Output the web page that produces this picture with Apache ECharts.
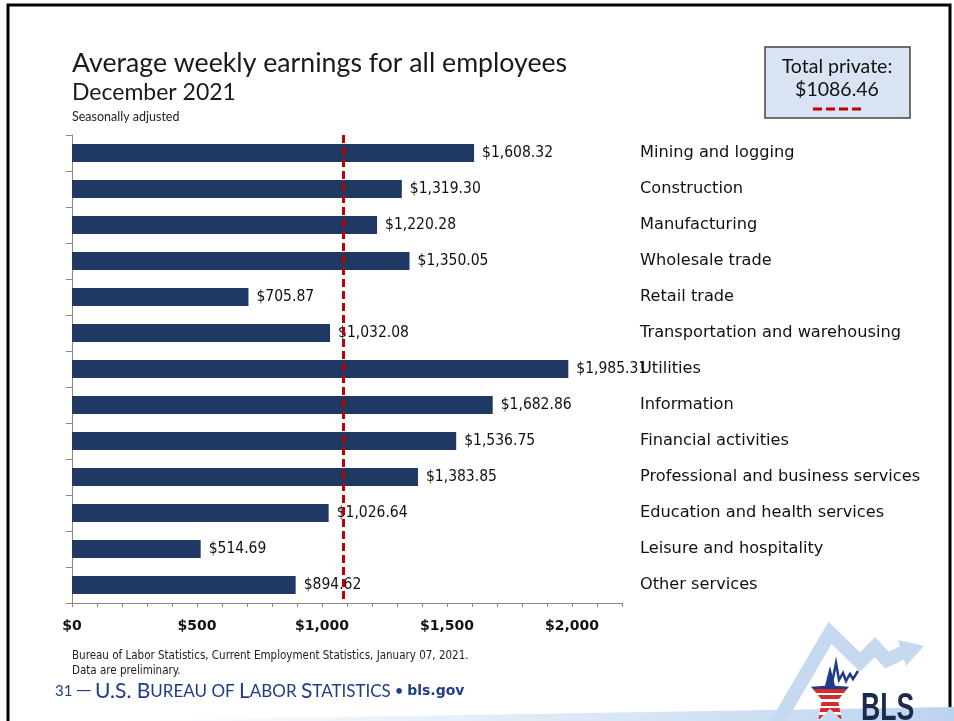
<!DOCTYPE html>
<html>
<head>
<meta charset="utf-8">
<script src="https://cdn.jsdelivr.net/npm/echarts@6/dist/echarts.min.js"></script>
<style>
  html, body { margin: 0; padding: 0; background: #fff; }
  #chart { width: 954px; height: 721px; }
</style>
</head>
<body>
<div id="chart"></div>
<script>
const industries = [
  "Mining and logging",
  "Construction",
  "Manufacturing",
  "Wholesale trade",
  "Retail trade",
  "Transportation and warehousing",
  "Utilities",
  "Information",
  "Financial activities",
  "Professional and business services",
  "Education and health services",
  "Leisure and hospitality",
  "Other services",
];
const weeklyEarnings = [
  1608.32, 1319.3, 1220.28, 1350.05, 705.87, 1032.08, 1985.31,
  1682.86, 1536.75, 1383.85, 1026.64, 514.69, 894.62,
];
const totalPrivate = 1086.46;
const xTickLabels = [0, 500, 1000, 1500, 2000];

const money = (v) =>
  "$" + v.toLocaleString("en-US", { minimumFractionDigits: 2, maximumFractionDigits: 2 });

const tahoma = "'DejaVu Sans Condensed', 'DejaVu Sans', sans-serif";
const calibri = "Lato, 'Open Sans', sans-serif";
const navy = "#1f3864";
const footBlue = "#1f3c88";

// five point star for the logo, stretched a bit vertically like the original
const starPoints = (cx, cy, r, r0, sy) => {
  const pts = [];
  for (let i = 0; i < 10; i++) {
    const a = -Math.PI / 2 + (i * Math.PI) / 5;
    const rr = i % 2 ? r0 : r;
    pts.push([cx + rr * Math.cos(a), cy + rr * Math.sin(a) * sy]);
  }
  return pts;
};

const stripeStops = [];
[[footBlue, 0, 0.42]].concat(
  [0.42, 0.54, 0.66, 0.78, 0.9].flatMap((o) => [["#d62b2b", o, o + 0.07], ["#fff", o + 0.07, o + 0.12]])
).forEach(([c, a, b]) => {
  stripeStops.push({ offset: a, color: c }, { offset: Math.min(b, 1), color: c });
});

const chart = echarts.init(document.getElementById("chart"));

chart.setOption({
  animation: false,
  grid: { left: 72, right: 332, top: 135, bottom: 118 },
  xAxis: {
    type: "value",
    min: 0,
    max: 2200,
    interval: 100,
    axisLine: { show: true, lineStyle: { color: "#888", width: 1 } },
    axisTick: { show: true, length: 4, lineStyle: { color: "#888" } },
    splitLine: { show: false },
    axisLabel: {
      margin: 16,
      color: "#111",
      fontFamily: "'DejaVu Sans', sans-serif",
      fontWeight: "bold",
      fontSize: 14,
      formatter: (v) => (xTickLabels.includes(v) ? "$" + v.toLocaleString("en-US") : ""),
    },
  },
  yAxis: [
    {
      type: "category",
      data: industries,
      inverse: true,
      axisLine: { show: true, lineStyle: { color: "#888" } },
      axisTick: { show: true, length: 6, lineStyle: { color: "#888" } },
      axisLabel: { show: false },
    },
    {
      type: "category",
      data: industries,
      inverse: true,
      position: "right",
      axisLine: { show: false },
      axisTick: { show: false },
      axisLabel: {
        margin: 18,
        color: "#111",
        fontFamily: "'DejaVu Sans', sans-serif",
        fontSize: 16.2,
      },
    },
  ],
  series: [
    {
      type: "bar",
      data: weeklyEarnings,
      barWidth: 18,
      itemStyle: { color: navy },
      label: {
        show: true,
        position: "right",
        distance: 8,
        color: "#111",
        fontFamily: tahoma,
        fontSize: 15.5,
        formatter: (p) => money(p.value),
      },
      markLine: {
        silent: true,
        symbol: "none",
        label: { show: false },
        lineStyle: { color: "#c00000", width: 3, type: [8, 4] },
        data: [{ xAxis: totalPrivate }],
      },
    },
  ],
  graphic: [
    // slide frame
    {
      type: "rect",
      shape: { x: 8, y: 5, width: 942, height: 800 },
      style: { fill: null, stroke: "#000", lineWidth: 3 },
    },
    // titles
    {
      type: "text",
      x: 72,
      y: 50,
      style: { text: "Average weekly earnings for all employees", font: "26.7px " + calibri, fill: "#1a1a1a" },
    },
    {
      type: "text",
      x: 72,
      y: 81,
      style: { text: "December 2021", font: "23px " + calibri, fill: "#1a1a1a" },
    },
    {
      type: "text",
      x: 72,
      y: 110,
      style: { text: "Seasonally adjusted", font: "12.5px " + calibri, fill: "#222" },
    },
    // total private box
    {
      type: "rect",
      shape: { x: 765, y: 47, width: 145, height: 71 },
      style: { fill: "#dae3f3", stroke: "#444", lineWidth: 1.5 },
    },
    {
      type: "text",
      x: 837,
      y: 57,
      style: { text: "Total private:", font: "19.5px " + calibri, fill: "#111", align: "center" },
    },
    {
      type: "text",
      x: 837,
      y: 80,
      style: { text: money(totalPrivate).replace(",", ""), font: "19.5px " + calibri, fill: "#111", align: "center" },
    },
    {
      type: "line",
      shape: { x1: 813, y1: 109, x2: 862, y2: 109 },
      style: { stroke: "#c00000", lineWidth: 3, lineDash: [9, 4] },
    },
    // source
    {
      type: "text",
      x: 72,
      y: 649,
      style: {
        text: "Bureau of Labor Statistics, Current Employment Statistics, January 07, 2021.\nData are preliminary.",
        font: "11.5px " + tahoma,
        lineHeight: 14.5,
        fill: "#222",
      },
    },
    // footer band
    {
      type: "polygon",
      shape: { points: [[100, 721], [954, 707], [954, 721]] },
      style: {
        fill: new echarts.graphic.LinearGradient(0, 0, 1, 0, [
          { offset: 0, color: "rgba(197,217,241,0)" },
          { offset: 1, color: "#bcd3ef" },
        ]),
      },
    },
    {
      type: "text",
      x: 55,
      y: 681,
      style: {
        text: "{n|31 }{d|—}{n| }{b|U.S. B}{s|UREAU OF }{b|L}{s|ABOR }{b|S}{s|TATISTICS}{n| • }{g|bls.gov}",
        rich: {
          n: { font: "15px " + calibri, fill: footBlue },
          d: { font: "15px 'DejaVu Sans', sans-serif", fill: footBlue },
          b: { font: "21px " + calibri, fill: footBlue },
          s: { font: "17px " + calibri, fill: footBlue },
          g: { font: "bold 14px 'DejaVu Sans', sans-serif", fill: footBlue },
        },
      },
    },
    // BLS logo arrow
    {
      type: "polyline",
      shape: { points: [[776, 725], [830, 633], [860, 662], [875, 647], [887, 660], [906, 651]] },
      style: { stroke: "#c6d9f1", lineWidth: 14, lineJoin: "miter", fill: null },
    },
    {
      type: "polygon",
      shape: { points: [[898, 640], [924, 646], [906, 666]] },
      style: { fill: "#c6d9f1" },
    },
    // star
    {
      type: "polygon",
      shape: { points: starPoints(830, 696, 20, 8.5, 1.5) },
      style: { fill: new echarts.graphic.LinearGradient(0, 0, 0, 1, stripeStops) },
    },
    {
      type: "polyline",
      shape: { points: [[831, 688], [836, 663], [839, 680], [843, 673], [846, 681], [850, 674], [853, 679], [858, 671]] },
      style: { stroke: footBlue, lineWidth: 2.5, fill: null },
    },
    {
      type: "group",
      x: 861,
      y: 691,
      scaleX: 0.7,
      children: [
        {
          type: "text",
          style: {
            text: "BLS",
            x: 0,
            y: 0,
            font: "bold 38px 'Liberation Sans', Arial, sans-serif",
            fill: "#1b2a4a",
          },
        },
      ],
    },
  ],
});
</script>
</body>
</html>
